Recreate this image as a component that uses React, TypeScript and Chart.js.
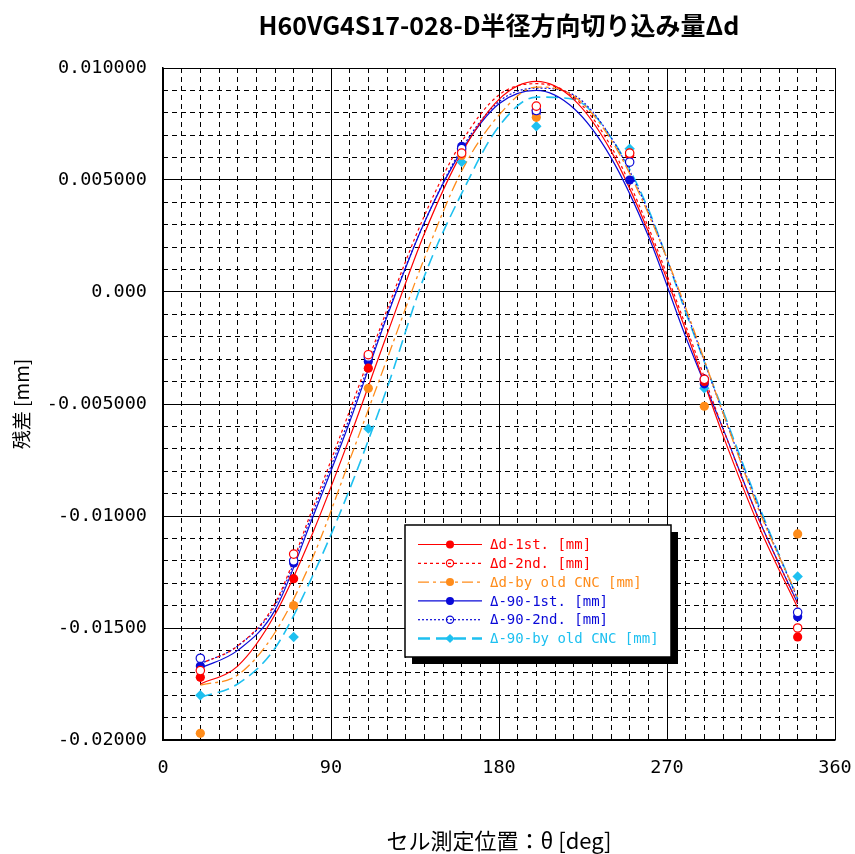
import React, { useEffect, useRef } from "react";
import { Chart, registerables } from "chart.js";

Chart.register(...registerables);

const titleText = "H60VG4S17-028-D半径方向切り込み量Δd";
const xTitle = "セル測定位置：θ [deg]";
const yTitle = "残差 [mm]";
const yTickLabels = ["-0.02000", "-0.01500", "-0.01000", "-0.005000", "0.000", "0.005000", "0.010000"];

const seriesLabels = [
  "Δd-1st. [mm]",
  "Δd-2nd. [mm]",
  "Δd-by old CNC [mm]",
  "Δ-90-1st. [mm]",
  "Δ-90-2nd. [mm]",
  "Δ-90-by old CNC [mm]",
];

// measured points (mm)
const pointAngles = [20, 70, 110, 160, 200, 250, 290, 340];
const d1stPoints = [-0.0172, -0.0128, -0.0034, 0.0063, 0.0081, 0.0061, -0.004, -0.0154];
const d2ndPoints = [-0.0169, -0.0117, -0.0028, 0.0062, 0.0083, 0.0062, -0.0039, -0.015];
const dOldPoints = [-0.0197, -0.014, -0.0043, 0.0061, 0.0078, 0.0062, -0.0051, -0.0108];
const m90FirstPoints = [-0.0167, -0.0121, -0.0031, 0.0065, 0.008, 0.005, -0.0041, -0.0145];
const m90SecondPoints = [-0.01635, -0.012, -0.0029, 0.0064, 0.0081, 0.0058, -0.0039, -0.0143];
const m90OldPoints = [-0.018, -0.0154, -0.0061, 0.0058, 0.0074, 0.0064, -0.0043, -0.0127];

// fitted curves (mm)
const curveAngles = [20, 40, 60, 80, 100, 120, 140, 160, 180, 200, 220, 240, 260, 280, 300, 320, 340];
const d1stCurve = [-0.0175, -0.0167, -0.0144, -0.0108, -0.0065, -0.0019, 0.0026, 0.0062, 0.0086, 0.0094, 0.0086, 0.0063, 0.0027, -0.0017, -0.0064, -0.0106, -0.0141];
const d2ndCurve = [-0.0166, -0.0158, -0.0139, -0.0097, -0.0053, -0.0008, 0.0034, 0.0067, 0.0088, 0.0093, 0.0087, 0.0065, 0.0029, -0.0015, -0.0061, -0.0103, -0.0139];
const dOldCurve = [-0.01755, -0.0171, -0.0152, -0.0119, -0.0075, -0.003, 0.0015, 0.0054, 0.0079, 0.00915, 0.00875, 0.0068, 0.0035, -0.0007, -0.0054, -0.0099, -0.0136];
const m90FirstCurve = [-0.0168, -0.016, -0.0142, -0.0101, -0.0058, -0.0011, 0.0031, 0.0063, 0.0084, 0.009, 0.0082, 0.006, 0.0025, -0.002, -0.0061, -0.0103, -0.0139];
const m90SecondCurve = [-0.0166, -0.0158, -0.014, -0.0099, -0.0056, -0.001, 0.0031, 0.0064, 0.0085, 0.0091, 0.0088, 0.0069, 0.0036, -0.0008, -0.0054, -0.0098, -0.0137];
const m90OldCurve = [-0.0181, -0.0175, -0.0159, -0.0127, -0.0088, -0.0043, 0.0007, 0.0044, 0.0074, 0.0087, 0.0086, 0.0069, 0.0037, -0.0009, -0.0053, -0.0097, -0.0137];

const RED = "#ff0000";
const ORANGE = "#ff8c1a";
const BLUE = "#0a0ad8";
const CYAN = "#1ec0f0";

const styles = [
  { color: RED, dash: [] as number[], width: 1.2, marker: "circle", fill: true, r: 4.6 },
  { color: RED, dash: [3, 3], width: 1.2, marker: "circle", fill: false, r: 4.2 },
  { color: ORANGE, dash: [11, 4, 3, 4], width: 1.3, marker: "circle", fill: true, r: 4.6 },
  { color: BLUE, dash: [] as number[], width: 1.2, marker: "circle", fill: true, r: 4.6 },
  { color: BLUE, dash: [2, 2], width: 1.2, marker: "circle", fill: false, r: 4.2 },
  { color: CYAN, dash: [12, 6], width: 1.6, marker: "rectRot", fill: true, r: 5.2 },
];

const curves = [d1stCurve, d2ndCurve, dOldCurve, m90FirstCurve, m90SecondCurve, m90OldCurve];
const points = [d1stPoints, d2ndPoints, dOldPoints, m90FirstPoints, m90SecondPoints, m90OldPoints];

const monoFont = "'DejaVu Sans Mono', monospace";
const cjkFont = "'Noto Sans CJK JP', sans-serif";

function drawMarker(ctx: CanvasRenderingContext2D, kind: string, x: number, y: number, r: number, color: string, fill: boolean) {
  ctx.save();
  ctx.setLineDash([]);
  ctx.beginPath();
  if (kind === "rectRot") {
    ctx.moveTo(x, y - r);
    ctx.lineTo(x + r, y);
    ctx.lineTo(x, y + r);
    ctx.lineTo(x - r, y);
    ctx.closePath();
  } else {
    ctx.arc(x, y, r, 0, Math.PI * 2);
  }
  if (fill) {
    ctx.fillStyle = color;
    ctx.fill();
  } else {
    ctx.lineWidth = 1.2;
    ctx.strokeStyle = color;
    ctx.stroke();
  }
  ctx.restore();
}

const boxLegend = {
  id: "boxLegend",
  afterDraw(chart: any) {
    const { ctx, chartArea } = chart;
    const left = chartArea.left + 242;
    const top = chartArea.top + 457;
    const w = 266;
    const h = 132;
    ctx.save();
    ctx.fillStyle = "#000";
    ctx.fillRect(left + 7, top + 7, w, h);
    ctx.fillStyle = "#fff";
    ctx.fillRect(left, top, w, h);
    ctx.strokeStyle = "#000";
    ctx.lineWidth = 1.5;
    ctx.strokeRect(left, top, w, h);
    ctx.font = `14px ${monoFont}`;
    ctx.textBaseline = "middle";
    ctx.textAlign = "left";
    seriesLabels.forEach((label, i) => {
      const s = styles[i];
      const y = top + 19.5 + i * 18.8;
      ctx.save();
      ctx.strokeStyle = s.color;
      ctx.lineWidth = i === 5 ? 2.6 : s.width;
      ctx.setLineDash(s.dash);
      ctx.beginPath();
      ctx.moveTo(left + 13, y);
      ctx.lineTo(left + 77, y);
      ctx.stroke();
      ctx.restore();
      drawMarker(ctx, s.marker, left + 45, y, s.r - 0.6, s.color, s.fill);
      ctx.fillStyle = s.color;
      ctx.fillText(label, left + 85, y + 1);
    });
    ctx.restore();
  },
};

export default function App() {
  const ref = useRef<HTMLCanvasElement | null>(null);

  useEffect(() => {
    if (!ref.current) return;
    const datasets: any[] = [];
    curves.forEach((c, i) => {
      const s = styles[i];
      datasets.push({
        label: seriesLabels[i] + " fit",
        data: curveAngles.map((a, k) => ({ x: a, y: c[k] })),
        borderColor: s.color,
        borderWidth: s.width,
        borderDash: s.dash,
        pointRadius: 0,
        fill: false,
        cubicInterpolationMode: "monotone",
        order: 2,
      });
    });
    points.forEach((p, i) => {
      const s = styles[i];
      datasets.push({
        label: seriesLabels[i],
        data: pointAngles.map((a, k) => ({ x: a, y: p[k] })),
        showLine: false,
        borderColor: s.color,
        backgroundColor: s.fill ? s.color : "#ffffff",
        pointStyle: s.marker,
        pointRadius: s.r,
        pointBorderWidth: s.fill ? 0 : 1.2,
        pointBackgroundColor: s.fill ? s.color : "#ffffff",
        pointBorderColor: s.color,
        order: i === 1 || i === 4 ? 0 : 1,
      });
    });

    const chart = new Chart(ref.current, {
      type: "line",
      data: { datasets },
      plugins: [boxLegend],
      options: {
        animation: false,
        responsive: true,
        maintainAspectRatio: false,
        layout: { padding: { left: 0, right: 20, top: 0, bottom: 0 } },
        plugins: {
          legend: { display: false },
          tooltip: { enabled: false },
          title: {
            display: true,
            text: titleText,
            fullSize: false,
            color: "#000",
            font: { family: cjkFont, size: 25, weight: "bold" },
            padding: { top: 10, bottom: 28 },
          },
        },
        scales: {
          x: {
            type: "linear",
            position: "bottom",
            min: 0,
            max: 360,
            ticks: { stepSize: 90, color: "#000", font: { family: monoFont, size: 18.5 }, padding: 17, maxRotation: 0 },
            grid: { color: "#000", lineWidth: 1, drawTicks: false },
            border: { color: "#000", width: 1.5 },
            title: { display: true, text: xTitle, color: "#000", font: { family: cjkFont, size: 22 }, padding: { top: 0, bottom: 0 } },
            afterFit: (s: any) => { s.height = 114; s.paddingRight = 18; s.paddingLeft = 0; },
          },
          x2: {
            type: "linear",
            position: "bottom",
            min: 0,
            max: 360,
            ticks: { display: false, stepSize: 10, maxTicksLimit: 100 },
            grid: { color: "#000", lineWidth: 1, drawTicks: false },
            border: { display: false, dash: [5, 4] },
            afterFit: (s: any) => { s.height = 0; s.paddingRight = 0; s.paddingLeft = 0; },
          },
          y: {
            type: "linear",
            position: "left",
            min: -0.02,
            max: 0.01,
            ticks: {
              stepSize: 0.005,
              color: "#000",
              font: { family: monoFont, size: 18.5 },
              padding: 16,
              callback: (_v: any, i: number) => yTickLabels[i],
            },
            grid: { color: "#000", lineWidth: 1, drawTicks: false },
            border: { color: "#000", width: 1.5 },
            title: { display: true, text: yTitle, color: "#000", font: { family: cjkFont, size: 19 }, padding: { top: 10, bottom: 0 } },
            afterFit: (s: any) => { s.width = 163; },
          },
          y2: {
            type: "linear",
            position: "left",
            min: -0.02,
            max: 0.01,
            ticks: { display: false, stepSize: 0.001, maxTicksLimit: 100 },
            grid: { color: "#000", lineWidth: 1, drawTicks: false },
            border: { display: false, dash: [5, 4] },
            afterFit: (s: any) => { s.width = 0; },
          },
        },
      } as any,
    });
    return () => chart.destroy();
  }, []);

  return (
    <div style={{ position: "fixed", left: 0, top: 0, width: 855, height: 854, background: "#fff" }}>
      <canvas ref={ref} />
    </div>
  );
}
